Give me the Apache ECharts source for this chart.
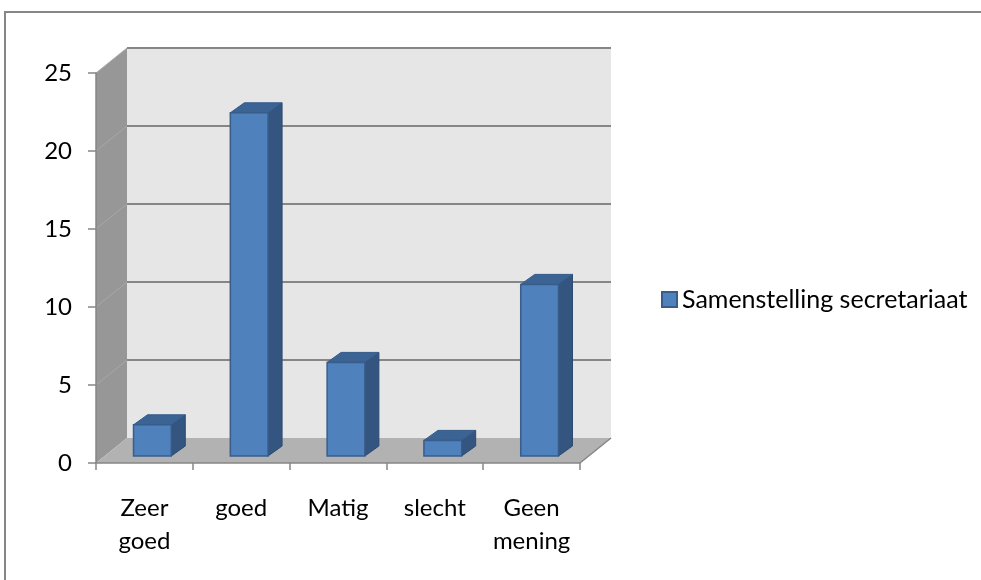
<!DOCTYPE html>
<html>
<head>
<meta charset="utf-8">
<script src="https://cdn.jsdelivr.net/npm/echarts@6/dist/echarts.min.js"></script>
<style>
  html, body { margin: 0; padding: 0; background: #fff; }
  #chart { width: 981px; height: 580px; }
</style>
</head>
<body>
<div id="chart"></div>
<script>
var categories = ['Zeer\ngoed', 'goed', 'Matig', 'slecht', 'Geen\nmening'];
var values = [2, 22, 6, 1, 11];
var seriesName = 'Samenstelling secretariaat';
var yTicks = [0, 5, 10, 15, 20, 25];

(function () {
    var myChart = echarts.init(document.getElementById('chart'));

    // depth of the 3d box (back wall offset) and of the bars
    var wallDx = 31, wallDy = -25;
    var barOffX = 8, barOffY = -7;
    var barDx = 14, barDy = -10;

    function wallsItem(params, api) {
        var cs = params.coordSys;
        var x0 = cs.x, x1 = cs.x + cs.width;
        var yTop = api.coord([0, yTicks[yTicks.length - 1]])[1];
        var y0 = api.coord([0, 0])[1];
        var children = [];
        // back wall
        children.push({
            type: 'rect',
            shape: { x: x0 + wallDx, y: yTop + wallDy, width: x1 - x0, height: y0 - yTop },
            style: { fill: '#e6e6e6' }
        });
        // side wall
        children.push({
            type: 'polygon',
            shape: { points: [[x0, yTop], [x0 + wallDx, yTop + wallDy], [x0 + wallDx, y0 + wallDy], [x0, y0]] },
            style: { fill: '#979797' }
        });
        // floor
        children.push({
            type: 'polygon',
            shape: { points: [[x0, y0], [x1, y0], [x1 + wallDx, y0 + wallDy], [x0 + wallDx, y0 + wallDy]] },
            style: { fill: '#b2b2b2' }
        });
        children.push({
            type: 'line',
            shape: { x1: x1, y1: y0, x2: x1 + wallDx, y2: y0 + wallDy },
            style: { stroke: '#868686', lineWidth: 1.5 }
        });
        // grid lines
        yTicks.forEach(function (v) {
            if (v === 0) return;
            var y = api.coord([0, v])[1];
            children.push({
                type: 'line',
                shape: { x1: x0 + wallDx, y1: y + wallDy, x2: x1 + wallDx, y2: y + wallDy },
                style: { stroke: '#868686', lineWidth: 2 }
            });
            children.push({
                type: 'line',
                shape: { x1: x0, y1: y, x2: x0 + wallDx, y2: y + wallDy },
                style: { stroke: '#a8a8a8', lineWidth: 1 }
            });
        });
        return { type: 'group', children: children };
    }

    function barItem(params, api) {
        var top = api.coord([api.value(0), api.value(1)]);
        var base = api.coord([api.value(0), 0]);
        var w = api.size([1, 0])[0] * 0.39;
        var xl = top[0] - w / 2 + barOffX;
        var xr = xl + w;
        var yt = top[1] + barOffY;
        var yb = base[1] + barOffY;
        return {
            type: 'group',
            children: [
                {
                    type: 'polygon',
                    shape: { points: [[xr, yt], [xr + barDx, yt + barDy], [xr + barDx, yb + barDy], [xr, yb]] },
                    style: { fill: '#33557f', stroke: '#2c4a70', lineWidth: 1 }
                },
                {
                    type: 'polygon',
                    shape: { points: [[xl, yt], [xl + barDx, yt + barDy], [xr + barDx, yt + barDy], [xr, yt]] },
                    style: { fill: '#3b6494', stroke: '#34598a', lineWidth: 1 }
                },
                {
                    type: 'rect',
                    shape: { x: xl, y: yt, width: w, height: yb - yt },
                    style: { fill: '#4f81bd', stroke: '#385d8a', lineWidth: 1.5 }
                }
            ]
        };
    }

    var option = {
        animation: false,
        textStyle: { fontFamily: 'Lato' },
        graphic: [{
            type: 'rect',
            shape: { x: 5, y: 12, width: 1000, height: 600 },
            style: { fill: 'none', stroke: '#868686', lineWidth: 2 },
            z: 100
        }],
        legend: {
            left: 661,
            top: 287,
            padding: 0,
            icon: 'rect',
            itemWidth: 15,
            itemHeight: 15,
            itemGap: 7,
            textStyle: { fontFamily: 'Lato', fontSize: 25, color: '#000' },
            data: [seriesName]
        },
        grid: {
            left: 96,
            top: 73,
            width: 484,
            height: 390
        },
        xAxis: {
            type: 'category',
            data: categories,
            axisLine: { show: true, lineStyle: { color: '#868686', width: 1.5 } },
            axisTick: { show: true, length: 7, lineStyle: { color: '#868686', width: 1.5 } },
            axisLabel: {
                color: '#000',
                fontFamily: 'Lato',
                fontSize: 24,
                margin: 29,
                lineHeight: 33,
                interval: 0
            },
            z: 10
        },
        yAxis: {
            type: 'value',
            min: 0,
            max: 25,
            interval: 5,
            axisLine: { show: true, lineStyle: { color: '#868686', width: 1.5 } },
            axisTick: { show: true, length: 8, lineStyle: { color: '#868686', width: 1.5 } },
            axisLabel: {
                color: '#000',
                fontFamily: 'Lato',
                fontSize: 24,
                margin: 24
            },
            splitLine: { show: false },
            z: 10
        },
        series: [
            {
                name: 'walls',
                type: 'custom',
                renderItem: wallsItem,
                data: [[0, 0]],
                silent: true,
                z: 1
            },
            {
                name: seriesName,
                type: 'custom',
                renderItem: barItem,
                itemStyle: { color: '#4f81bd', borderColor: '#385d8a', borderWidth: 1 },
                encode: { x: 0, y: 1 },
                data: values.map(function (v, i) { return [i, v]; }),
                z: 3
            }
        ]
    };

    myChart.setOption(option);
})();
</script>
</body>
</html>
